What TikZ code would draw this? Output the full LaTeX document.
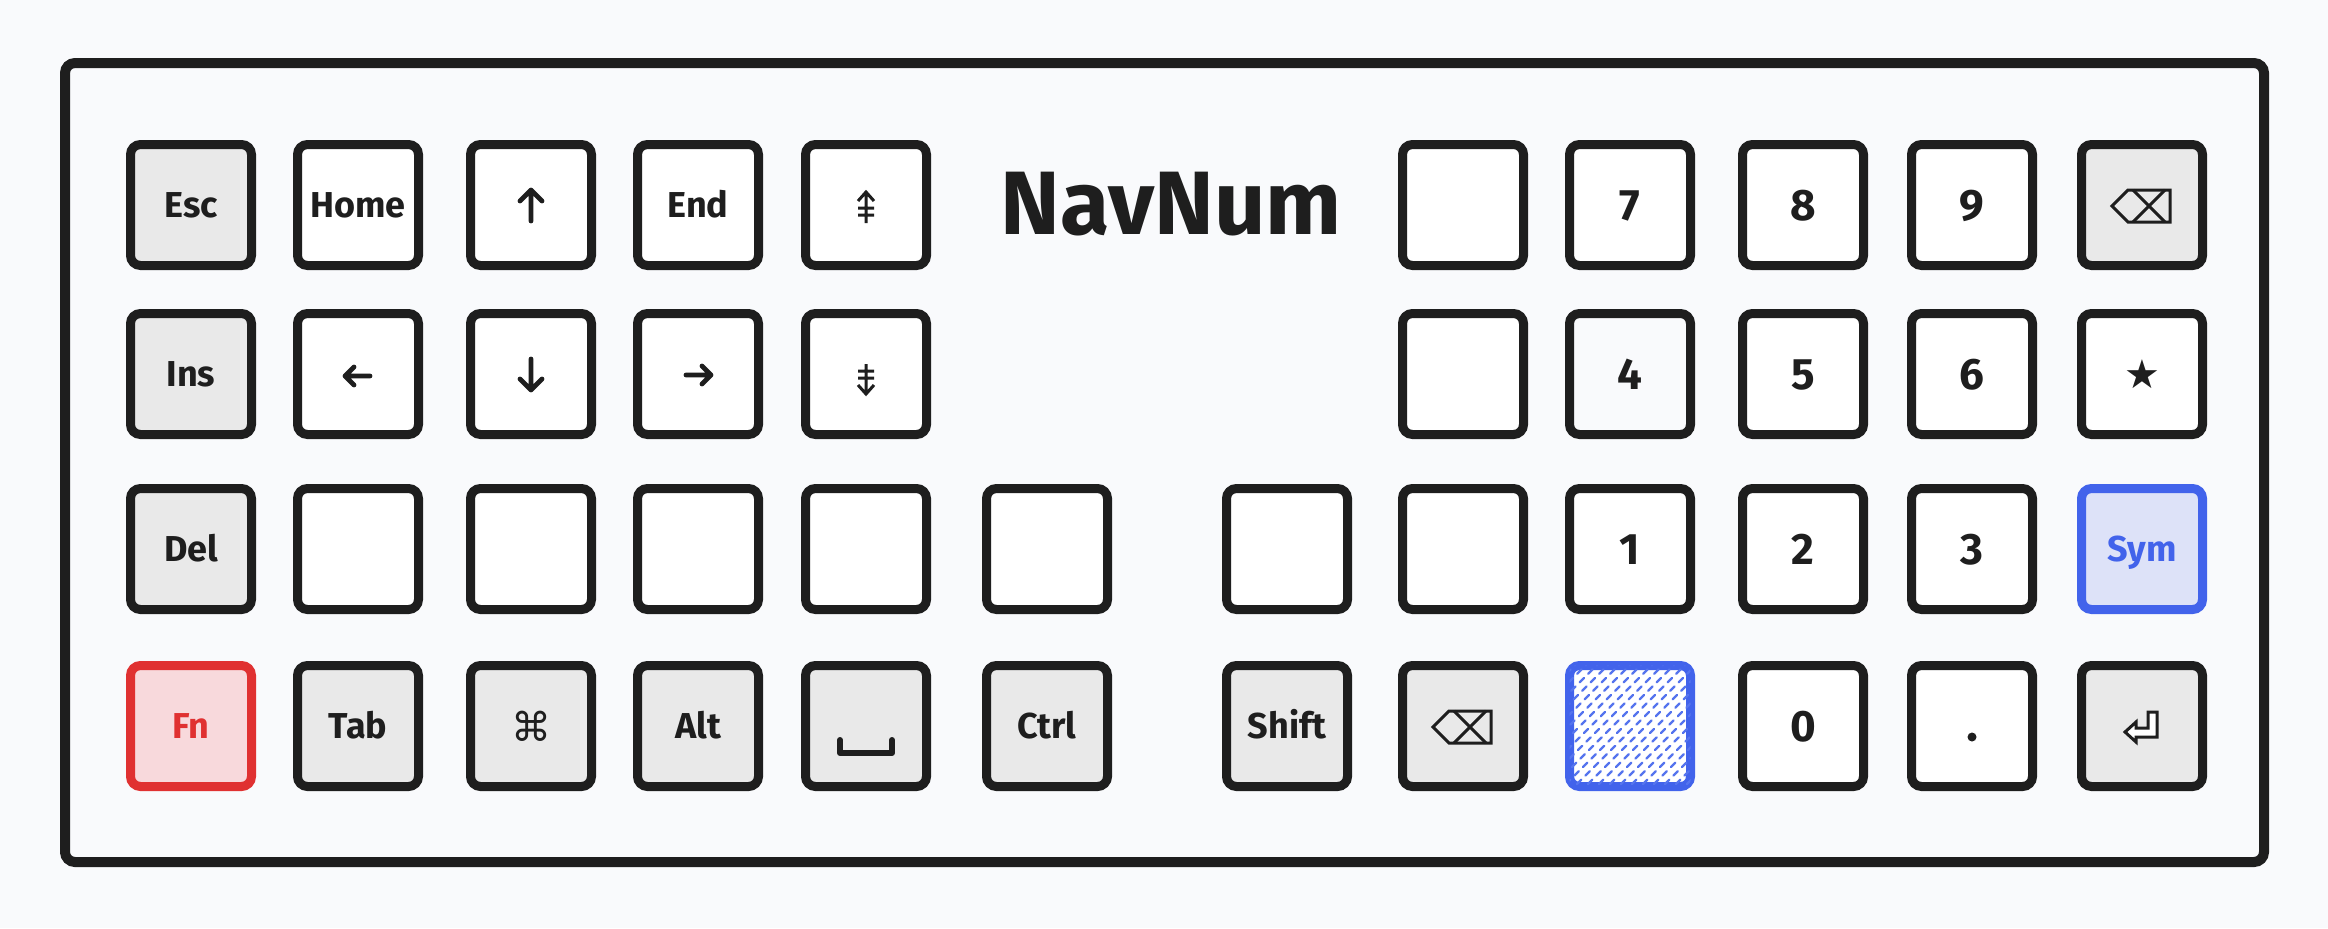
\documentclass[tikz,border=0pt]{standalone}
\usepackage{fontspec}
\setmainfont{Fira Sans}
\newfontfamily\symfont{DejaVu Sans}
\definecolor{ink}{HTML}{1E1E1E}
\definecolor{bg}{HTML}{F9FAFC}
\definecolor{keygray}{HTML}{E9E9E9}
\definecolor{fnred}{HTML}{E03131}
\definecolor{fnfill}{HTML}{F8D9DC}
\definecolor{symblue}{HTML}{4263EB}
\definecolor{symfill}{HTML}{DDE2F8}
\definecolor{hatchblue}{HTML}{5574EE}
\tikzset{
  key/.style={draw=ink, line width=4.5pt, rounded corners=5pt, minimum width=60.5pt,
    minimum height=60.5pt, inner sep=0pt, fill=white, text=ink,
    font=\bfseries\fontsize{18}{18}\selectfont, text height=12.4pt, text depth=0pt},
  modkey/.style={key, fill=keygray},
  digit/.style={font=\bfseries\fontsize{22}{22}\selectfont, text height=15.2pt},
  fnkey/.style={key, draw=fnred, fill=fnfill, text=fnred},
  symkey/.style={key, draw=symblue, fill=symfill, text=symblue},
  hatchkey/.style={key, draw=symblue, fill=white},
  frame/.style={draw=ink, line width=5pt, rounded corners=5pt, fill=bg,
    minimum width=1099.5pt, minimum height=399.5pt, inner sep=0pt},
  titletext/.style={font=\bfseries\fontsize{45}{45}\selectfont, text=ink, inner sep=0pt},
  glyph/.style={draw=ink, line width=2.4pt, line cap=round, line join=round},
  thinglyph/.style={draw=ink, line width=1.5pt, line join=miter},
  symglyph/.style={font=\symfont\fontsize{20}{20}\selectfont, text=ink, inner sep=0pt},
  hatchline/.style={draw=hatchblue, line width=1.2pt, line cap=round, dash pattern=on 3pt off 3pt},
}
\begin{document}
\begin{tikzpicture}[x=0.5pt, y=-0.5pt]
\useasboundingbox[fill=bg] (0,0) rectangle (2328,928);
\node[frame] (frame) at (1164.5,462.5) {};

% row 1
\node[modkey] (esc) at (191,205) {Esc};
\node[key] (home) at (358,205) {Home};
\node[key] (up) at (531,205) {};
\node[key] (end) at (698,205) {End};
\node[key] (pgup) at (866,205) {};
\node[titletext] (title) at (1171,204) {NavNum};
\node[key] (r1b) at (1463,205) {};
\node[key,digit] (n7) at (1630,205) {7};
\node[key,digit] (n8) at (1803,205) {8};
\node[key,digit] (n9) at (1972,205) {9};
\node[modkey] (bspa) at (2142,205) {};

% row 2
\node[modkey] (ins) at (191,374) {Ins};
\node[key] (left) at (358,374) {};
\node[key] (down) at (531,374) {};
\node[key] (right) at (698,374) {};
\node[key] (pgdn) at (866,374) {};
\node[key] (r2b) at (1463,374) {};
\node[key,digit,fill=bg] (n4) at (1630,374) {4};
\node[key,digit] (n5) at (1803,374) {5};
\node[key,digit] (n6) at (1972,374) {6};
\node[key] (star) at (2142,374) {};

% row 3
\node[modkey] (del) at (191,549) {Del};
\node[key] (b32) at (358,549) {};
\node[key] (b33) at (531,549) {};
\node[key] (b34) at (698,549) {};
\node[key] (b35) at (866,549) {};
\node[key] (b36) at (1047,549) {};
\node[key] (b37) at (1287,549) {};
\node[key] (b38) at (1463,549) {};
\node[key,digit] (n1) at (1630,549) {1};
\node[key,digit] (n2) at (1803,549) {2};
\node[key,digit] (n3) at (1972,549) {3};
\node[symkey] (sym) at (2142,549) {Sym};

% row 4
\node[fnkey] (fn) at (191,726) {Fn};
\node[modkey] (tab) at (358,726) {Tab};
\node[modkey] (cmd) at (531,726) {};
\node[modkey] (alt) at (698,726) {Alt};
\node[modkey] (space) at (866,726) {};
\node[modkey] (ctrl) at (1047,726) {Ctrl};
\node[modkey] (shift) at (1287,726) {Shift};
\node[modkey] (bspb) at (1463,726) {};
\node[hatchkey] (hatch) at (1630,726) {};
\node[key,digit] (n0) at (1803,726) {0};
\node[key] (dot) at (1972,726) {};
\node[modkey] (enter) at (2142,726) {};

% glyphs
\begin{scope}[shift={(up.center)}]
  \draw[glyph] (0,16) -- (0,-15) (-11,-4) -- (0,-15) -- (11,-4);
\end{scope}
\begin{scope}[shift={(down.center)}]
  \draw[glyph] (0,-15) -- (0,16) (-11,5) -- (0,16) -- (11,5);
\end{scope}
\begin{scope}[shift={(left.center)}]
  \draw[glyph] (12,2) -- (-13,2) (-4,-7) -- (-13,2) -- (-4,11);
\end{scope}
\begin{scope}[shift={(right.center)}]
  \draw[glyph] (-12,1) -- (13,1) (4,-8) -- (13,1) -- (4,10);
\end{scope}
\begin{scope}[shift={(pgup.center)}]
  \draw[thinglyph, line cap=butt] (0,-13) -- (0,18) (-8,-4) -- (0,-13) -- (8,-4)
    (-8,3) -- (8,3) (-8,10) -- (8,10);
\end{scope}
\begin{scope}[shift={(pgdn.center)}]
  \draw[thinglyph, line cap=butt] (0,-10) -- (0,20) (-8,11) -- (0,20) -- (8,11)
    (-8,-3) -- (8,-3) (-8,4) -- (8,4);
\end{scope}
\node[symglyph] (startxt) at (star.center) {★};
\node[symglyph] (cmdtxt) at (cmd.center) {⌘};
\foreach \k in {bspa,bspb}{
  \begin{scope}[shift={(\k.center)}]
    \draw[thinglyph] (-30,1) -- (-14,-15) -- (28,-15) -- (28,17) -- (-14,17) -- cycle;
    \draw[thinglyph] (-9,-15) -- (23,17) (23,-15) -- (-9,17);
  \end{scope}
}
\begin{scope}[shift={(enter.center)}]
  \draw[thinglyph, fill=white] (6,-14) -- (15,-14) -- (15,11) -- (-6,11) -- (-6,16)
    -- (-17,6) -- (-6,-4) -- (-6,2) -- (6,2) -- cycle;
\end{scope}
\begin{scope}[shift={(space.center)}]
  \draw[draw=ink, line width=3pt, line cap=round, line join=round]
    (-26,14) -- (-26,27) -- (26,27) -- (26,14);
\end{scope}
\begin{scope}[shift={(dot.center)}]
  \fill[ink] (0,11) circle[radius=2.25pt];
\end{scope}
\begin{scope}
  \clip[rounded corners=3pt] ([shift={(4.5,-4.5)}]hatch.south west) rectangle ([shift={(-4.5,4.5)}]hatch.north east);
  \foreach \i in {-160,-149,...,160}{
    \draw[hatchline] ([shift={(\i-75,75)}]hatch.center) -- ++(150,-150);
  }
\end{scope}
\end{tikzpicture}
\end{document}
